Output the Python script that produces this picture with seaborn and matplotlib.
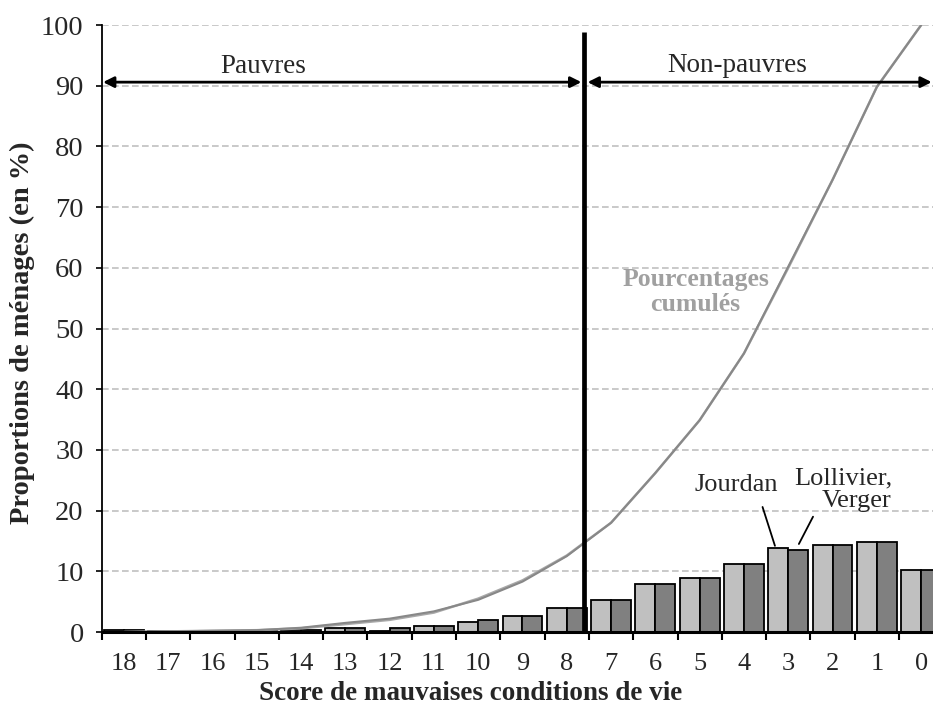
import numpy as np
import pandas as pd
import matplotlib
matplotlib.use("Agg")
import matplotlib.pyplot as plt
import seaborn as sns

# Données
scores = ['18', '17', '16', '15', '14', '13', '12', '11', '10', '9',
          '8', '7', '6', '5', '4', '3', '2', '1', '0']
jourdan = [0.3, 0.2, 0.2, 0.2, 0.3, 0.7, 0.15, 0.95, 1.65, 2.6,
           3.9, 5.3, 7.9, 8.9, 11.2, 13.9, 14.4, 14.8, 10.2]
lollivier = [0.3, 0.2, 0.2, 0.2, 0.3, 0.7, 0.6, 0.95, 1.9, 2.6,
             3.9, 5.3, 7.9, 8.9, 11.2, 13.5, 14.4, 14.8, 10.2]
cum_jourdan = [0.0, 0.1, 0.2, 0.3, 0.7, 1.5, 2.2, 3.4, 5.3, 8.3,
               12.5, 18.0, 26.2, 34.9, 45.9, 60.2, 74.5, 89.8, 100.0]
cum_lollivier = [0.0, 0.1, 0.2, 0.3, 0.6, 1.3, 2.0, 3.2, 5.5, 8.5,
                 12.6, 18.0, 26.2, 34.9, 45.9, 60.0, 74.5, 89.8, 100.0]
sources = ['Jourdan', 'Lollivier, Verger']
yticks = list(range(0, 101, 10))

df = pd.DataFrame({
    'score': scores * 2,
    'valeur': jourdan + lollivier,
    'source': [sources[0]] * len(scores) + [sources[1]] * len(scores),
})

sns.set_style('white')
plt.rcParams['font.family'] = ['Liberation Serif', 'DejaVu Serif']

fig = plt.figure(figsize=(9.33, 7.09), dpi=100)
ax = fig.add_axes([0.109, 0.1086, 0.902, 0.856])

# Grille
for v in yticks[1:]:
    ax.axhline(v, color='#c0c0c0', lw=1.2, ls=(0, (4, 2)), zorder=0)

# 1. Barres
sns.barplot(data=df, x='score', y='valeur', hue='source', order=scores,
            hue_order=sources,
            palette={'Jourdan': '#c0c0c0', 'Lollivier, Verger': '#808080'},
            width=0.9, edgecolor='black', linewidth=1.3, saturation=1,
            legend=False, ax=ax, zorder=2)

# 2. Pourcentages cumulés
pos = np.arange(len(scores))
sns.lineplot(x=pos, y=cum_lollivier, color='#a8a8a8', lw=1.8, ax=ax, zorder=3)
sns.lineplot(x=pos, y=cum_jourdan, color='#888888', lw=1.5, ax=ax, zorder=3)

ax.set_xlim(-0.5, len(scores) - 0.5)
ax.set_ylim(0, 100)

# 3. Axes et graduations
ax.set_yticks(yticks)
ax.tick_params(axis='y', direction='out', length=4, width=1.2, pad=9,
               labelsize=20.5, left=True, color='black')
ax.set_xticks(np.arange(len(scores) + 1) - 0.5)
ax.set_xticklabels([])
ax.set_xticks(pos, minor=True)
ax.set_xticklabels(scores, minor=True)
ax.tick_params(axis='x', which='major', direction='out', length=6, width=1.5,
               bottom=True, color='black')
ax.tick_params(axis='x', which='minor', length=0, pad=15, labelsize=19)

for s in ['top', 'right']:
    ax.spines[s].set_visible(False)
ax.spines['left'].set_color('black')
ax.spines['left'].set_linewidth(1.3)
ax.spines['bottom'].set_color('black')
ax.spines['bottom'].set_linewidth(2.2)
ax.spines['bottom'].set_zorder(4)

ax.set_xlabel('Score de mauvaises conditions de vie', fontsize=19.5,
              fontweight='bold')
ax.xaxis.set_label_coords(0.4388, -0.081)
ax.set_ylabel('Proportions de ménages (en %)', fontsize=20.5,
              fontweight='bold')
ax.yaxis.set_label_coords(-0.079, 0.493)

# 4. Séparation pauvres / non-pauvres
ax.plot([10.4, 10.4], [0, 98.9], color='black', lw=3.4, zorder=5,
        solid_capstyle='butt')
ax.annotate('', xy=(-0.47, 90.6), xytext=(10.33, 90.6),
            arrowprops=dict(arrowstyle='<|-|>', color='black', lw=2,
                            mutation_scale=16, shrinkA=0, shrinkB=0))
ax.annotate('', xy=(10.47, 90.6), xytext=(18.24, 90.6),
            arrowprops=dict(arrowstyle='<|-|>', color='black', lw=2,
                            mutation_scale=16, shrinkA=0, shrinkB=0))
ax.text(3.15, 93.2, 'Pauvres', fontsize=19.5, ha='center', va='center')
ax.text(13.84, 93.4, 'Non-pauvres', fontsize=19.5, ha='center', va='center')

# 5. Annotations
ax.text(12.91, 56, 'Pourcentages\ncumulés', fontsize=18.5, fontweight='bold',
        color='#a0a0a0', ha='center', va='center', linespacing=1.1)
ax.text(13.82, 24.2, 'Jourdan', fontsize=19, ha='center', va='center')
ax.text(17.34, 23.4, 'Lollivier,\nVerger', fontsize=19, ha='right',
        va='center', multialignment='right', linespacing=1.05)
ax.plot([14.42, 14.70], [20.6, 14.2], color='black', lw=1.3)
ax.plot([15.56, 15.24], [19.0, 14.5], color='black', lw=1.3)

fig.savefig('out.png', dpi=100)
